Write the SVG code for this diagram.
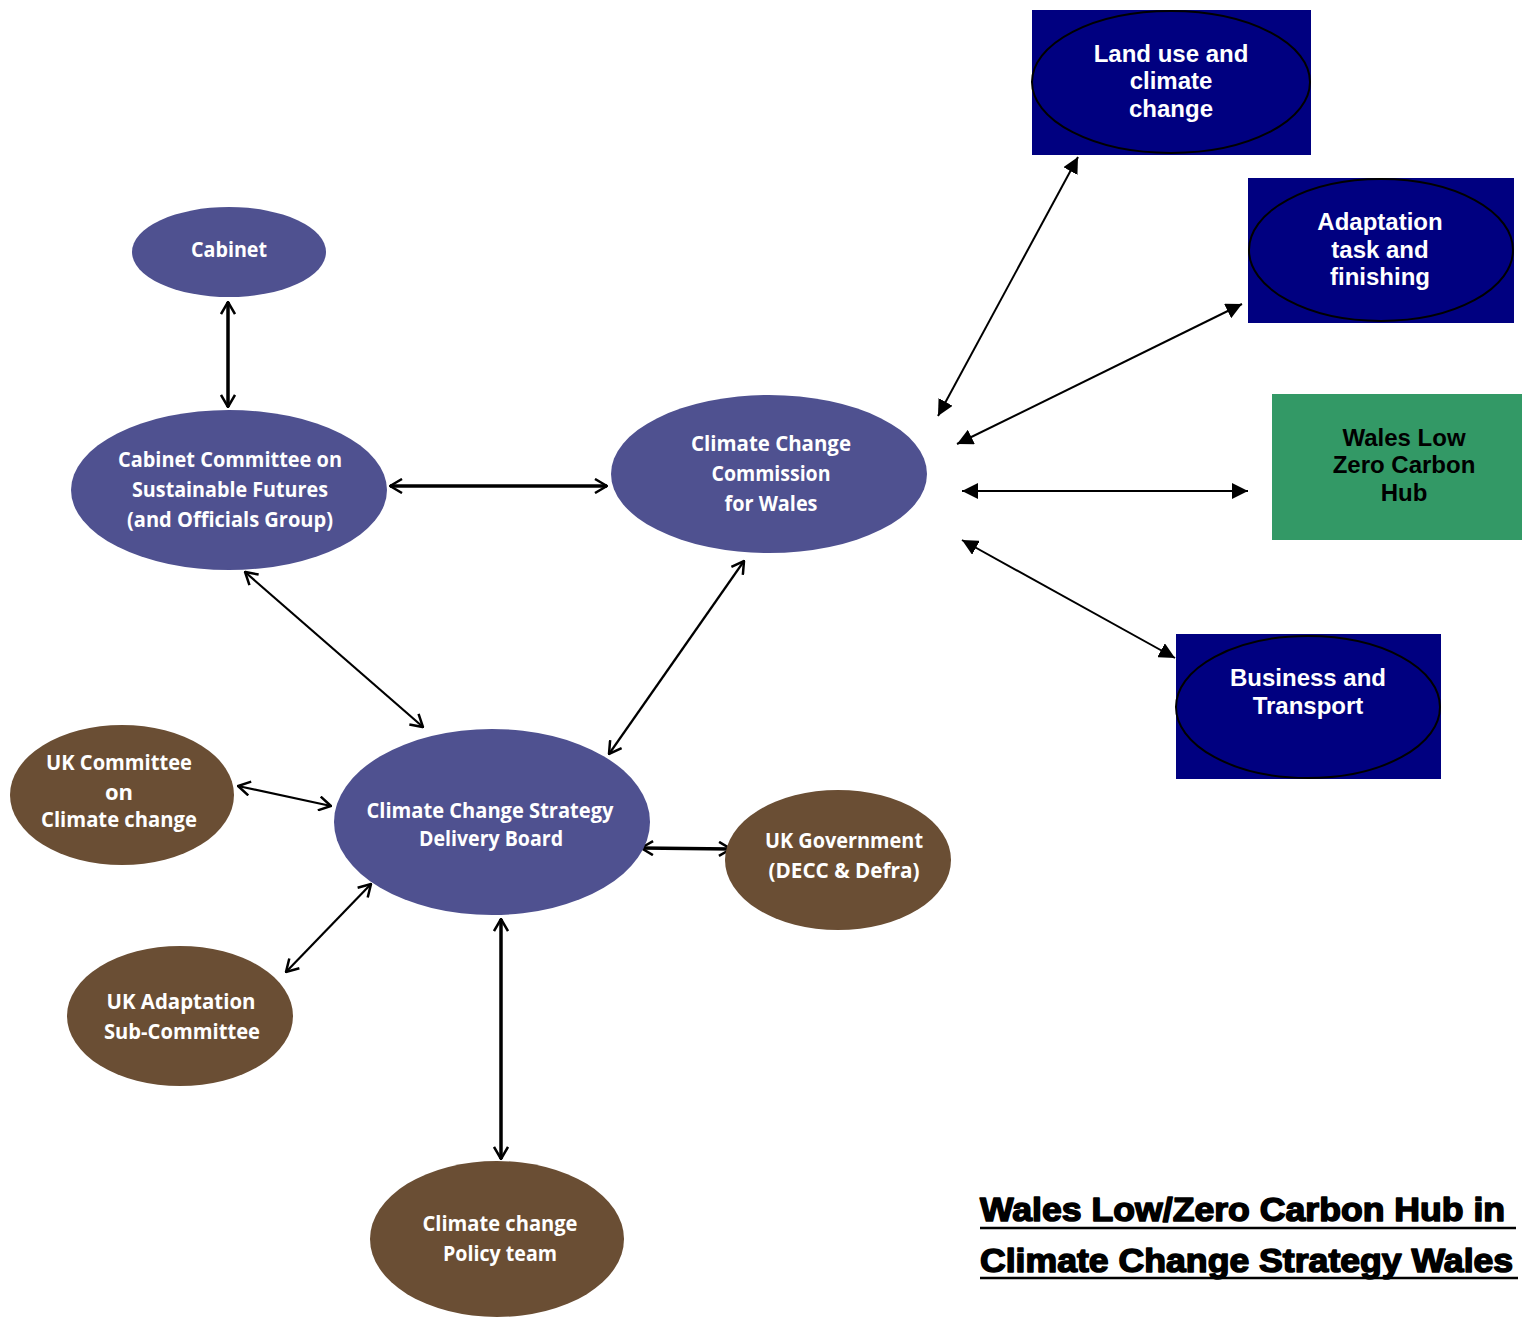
<svg xmlns="http://www.w3.org/2000/svg" width="1522" height="1318" viewBox="0 0 1522 1318">
<style>
.pur{fill:#4F5190}
.brn{fill:#6A4E34}
.lt{font-family:"Open Sans","Noto Sans",sans-serif;font-weight:700;font-size:22px;fill:#fff;text-anchor:middle}
.bt{font-family:"Liberation Sans",Arial,sans-serif;font-weight:bold;font-size:24px;fill:#fff;text-anchor:middle}
.navy{fill:#000080}
.oval{fill:#000080;stroke:#000;stroke-width:2}
.ttl{font-family:"Liberation Sans",Arial,sans-serif;font-weight:bold;font-size:33px;fill:#000;stroke:#000;stroke-width:1.5;stroke-linejoin:round}
.c1{fill:none;stroke:#000;stroke-width:3.5;marker-start:url(#open);marker-end:url(#open)}
.c2{fill:none;stroke:#000;stroke-width:2.2;marker-start:url(#open);marker-end:url(#open)}
.c3{fill:none;stroke:#000;stroke-width:2;marker-start:url(#solid);marker-end:url(#solid)}
</style>
<defs>
<marker id="open" viewBox="0 0 14 16" refX="13" refY="8" markerWidth="14" markerHeight="16" markerUnits="userSpaceOnUse" orient="auto-start-reverse">
<path d="M1,1 L13,8 L1,15" fill="none" stroke="#000" stroke-width="2.5"/>
</marker>
<marker id="solid" viewBox="0 0 16 16" refX="16" refY="8" markerWidth="16" markerHeight="16" markerUnits="userSpaceOnUse" orient="auto-start-reverse">
<path d="M0,0 L16,8 L0,16 z" fill="#000"/>
</marker>
</defs>
<rect width="1522" height="1318" fill="#fff"/>

<g id="connectors">
<line class="c1" x1="228" y1="302" x2="228" y2="407"/>
<line class="c1" x1="390" y1="486" x2="607" y2="486"/>
<line class="c2" x1="245" y1="572" x2="423" y2="727"/>
<line class="c2" x1="744" y1="561" x2="609" y2="754"/>
<line class="c2" x1="238" y1="786" x2="331" y2="806"/>
<line class="c1" x1="641" y1="848" x2="731" y2="849"/>
<line class="c2" x1="286" y1="972" x2="371" y2="884"/>
<line class="c1" x1="501" y1="919" x2="501" y2="1159"/>
<line class="c3" x1="938" y1="416" x2="1078" y2="157"/>
<line class="c3" x1="957" y1="444" x2="1242" y2="304"/>
<line class="c3" x1="962" y1="491" x2="1248" y2="491"/>
<line class="c3" x1="962" y1="540" x2="1175" y2="658"/>
</g>

<g id="cabinet">
<ellipse class="pur" cx="229" cy="252" rx="97" ry="45"/>
<text class="lt" x="229" y="257" textLength="76" lengthAdjust="spacingAndGlyphs">Cabinet</text>
</g>
<g id="cabinet-committee">
<ellipse class="pur" cx="229" cy="490" rx="158" ry="80"/>
<text class="lt" x="230" y="467" textLength="224" lengthAdjust="spacingAndGlyphs">Cabinet Committee on</text>
<text class="lt" x="230" y="497" textLength="196" lengthAdjust="spacingAndGlyphs">Sustainable Futures</text>
<text class="lt" x="230" y="527" textLength="206" lengthAdjust="spacingAndGlyphs">(and Officials Group)</text>
</g>
<g id="commission">
<ellipse class="pur" cx="769" cy="474" rx="158" ry="79"/>
<text class="lt" x="771" y="451" textLength="160" lengthAdjust="spacingAndGlyphs">Climate Change</text>
<text class="lt" x="771" y="481" textLength="119" lengthAdjust="spacingAndGlyphs">Commission</text>
<text class="lt" x="771" y="511" textLength="93" lengthAdjust="spacingAndGlyphs">for Wales</text>
</g>
<g id="delivery-board">
<ellipse class="pur" cx="492" cy="822" rx="158" ry="93"/>
<text class="lt" x="490" y="818" textLength="247" lengthAdjust="spacingAndGlyphs">Climate Change Strategy</text>
<text class="lt" x="491" y="846" textLength="144" lengthAdjust="spacingAndGlyphs">Delivery Board</text>
</g>
<g id="uk-committee">
<ellipse class="brn" cx="122" cy="795" rx="112" ry="70"/>
<text class="lt" x="119" y="770" textLength="146" lengthAdjust="spacingAndGlyphs">UK Committee</text>
<text class="lt" x="119" y="800">on</text>
<text class="lt" x="119" y="827" textLength="156" lengthAdjust="spacingAndGlyphs">Climate change</text>
</g>
<g id="uk-government">
<ellipse class="brn" cx="838" cy="860" rx="113" ry="70"/>
<text class="lt" x="844" y="848" textLength="158" lengthAdjust="spacingAndGlyphs">UK Government</text>
<text class="lt" x="844" y="878" textLength="151" lengthAdjust="spacingAndGlyphs">(DECC &amp; Defra)</text>
</g>
<g id="uk-adaptation">
<ellipse class="brn" cx="180" cy="1016" rx="113" ry="70"/>
<text class="lt" x="181" y="1009" textLength="149" lengthAdjust="spacingAndGlyphs">UK Adaptation</text>
<text class="lt" x="182" y="1039" textLength="156" lengthAdjust="spacingAndGlyphs">Sub-Committee</text>
</g>
<g id="policy-team">
<ellipse class="brn" cx="497" cy="1239" rx="127" ry="78"/>
<text class="lt" x="500" y="1231" textLength="155" lengthAdjust="spacingAndGlyphs">Climate change</text>
<text class="lt" x="500" y="1261" textLength="114" lengthAdjust="spacingAndGlyphs">Policy team</text>
</g>

<g id="land-use">
<rect class="navy" x="1032" y="10" width="279" height="145"/>
<ellipse class="oval" cx="1171" cy="82" rx="139" ry="71"/>
<text class="bt" x="1171" y="62">Land use and</text>
<text class="bt" x="1171" y="89">climate</text>
<text class="bt" x="1171" y="117">change</text>
</g>
<g id="adaptation-task">
<rect class="navy" x="1248" y="178" width="266" height="145"/>
<ellipse class="oval" cx="1381" cy="250" rx="132" ry="71"/>
<text class="bt" x="1380" y="230">Adaptation</text>
<text class="bt" x="1380" y="258">task and</text>
<text class="bt" x="1380" y="285">finishing</text>
</g>
<g id="wales-hub">
<rect x="1272" y="394" width="250" height="146" fill="#339966"/>
<text class="bt" x="1404" y="446" style="fill:#000">Wales Low</text>
<text class="bt" x="1404" y="473" style="fill:#000">Zero Carbon</text>
<text class="bt" x="1404" y="501" style="fill:#000">Hub</text>
</g>
<g id="business-transport">
<rect class="navy" x="1176" y="634" width="265" height="145"/>
<ellipse class="oval" cx="1308" cy="707" rx="132" ry="71"/>
<text class="bt" x="1308" y="686">Business and</text>
<text class="bt" x="1308" y="714">Transport</text>
</g>

<g id="title">
<text class="ttl" transform="translate(980,1221) scale(1.08,1)">Wales Low/Zero Carbon Hub in</text>
<text class="ttl" transform="translate(980,1272) scale(1.08,1)">Climate Change Strategy Wales</text>
<line x1="980" y1="1228" x2="1516" y2="1228" stroke="#000" stroke-width="2.5"/>
<line x1="980" y1="1278" x2="1518" y2="1278" stroke="#000" stroke-width="2.5"/>
</g>
</svg>
